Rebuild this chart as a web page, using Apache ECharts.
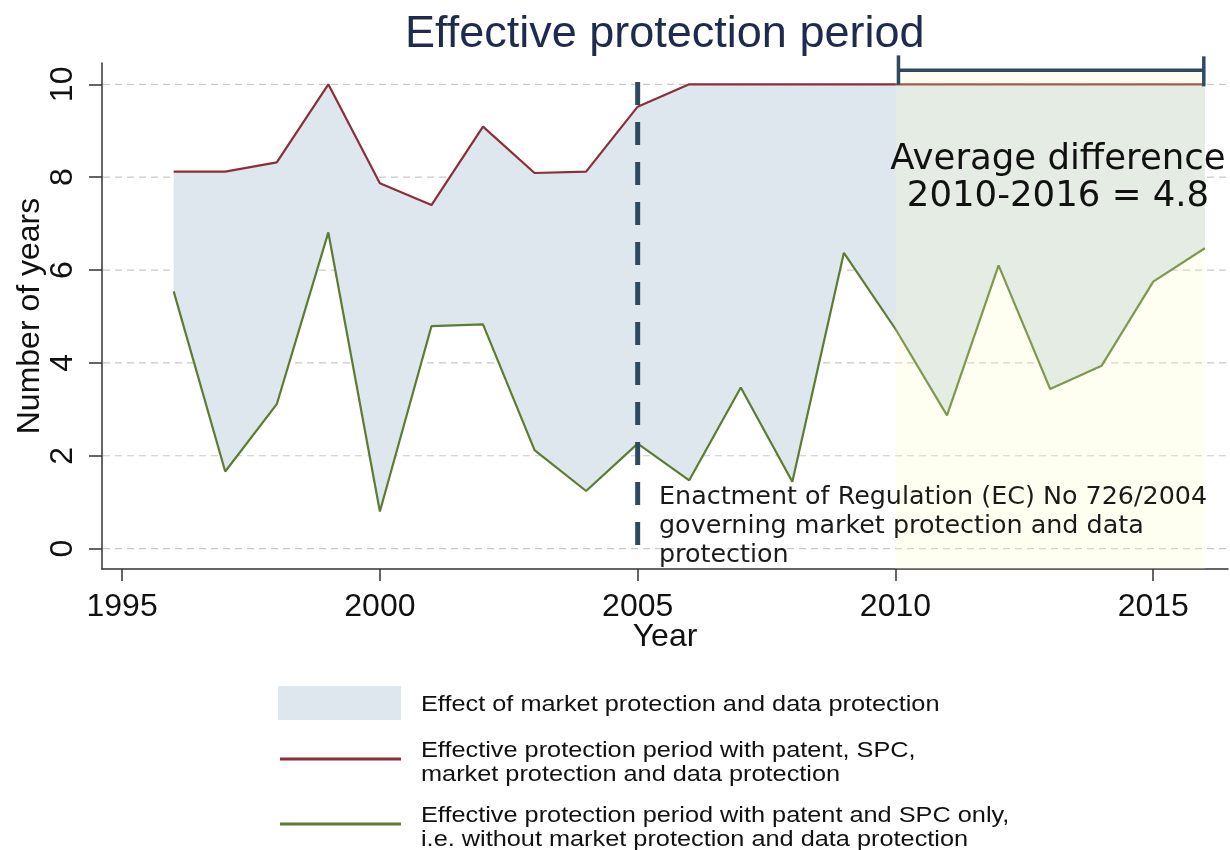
<!DOCTYPE html>
<html>
<head>
<meta charset="utf-8">
<title>Effective protection period</title>
<script src="https://cdn.jsdelivr.net/npm/echarts@6/dist/echarts.min.js"></script>
<style>
  html, body { margin: 0; padding: 0; background: #ffffff; }
  #chart { width: 1230px; height: 850px; }
</style>
</head>
<body>
<div id="chart"></div>
<script>
// Years covered by the series
const years = [1996, 1997, 1998, 1999, 2000, 2001, 2002, 2003, 2004, 2005, 2006,
               2007, 2008, 2009, 2010, 2011, 2012, 2013, 2014, 2015, 2016];

// Effective protection period with patent, SPC, market protection and data protection
const withMarketProtection = [8.12, 8.12, 8.32, 10.0, 7.87, 7.40, 9.09, 8.09, 8.12, 9.52, 10.0,
                              10.0, 10.0, 10.0, 10.0, 10.0, 10.0, 10.0, 10.0, 10.0, 10.0];

// Effective protection period with patent and SPC only
const patentSpcOnly = [5.54, 1.66, 3.11, 6.81, 0.80, 4.79, 4.83, 2.12, 1.24, 2.26, 1.47,
                       3.47, 1.44, 6.37, 4.73, 2.87, 6.10, 3.44, 3.94, 5.75, 6.47];

// Axis ticks
const xTicks = [1995, 2000, 2005, 2010, 2015];
const yTicks = [0, 2, 4, 6, 8, 10];

// Annotated events
const regulationYear = [2005];
const averageSpan = [2010, 2016];

const X_MIN = 1994.61, X_MAX = 2016.45;
const Y_MIN = -0.44, Y_MAX = 10.46;

const ARIAL = "'Liberation Sans', Arial, Helvetica, sans-serif";
const GOTHIC = "'DejaVu Sans', 'Noto Sans', sans-serif";
const RED = '#8c2e3a';
const GREEN = '#5b7c32';
const BAND = '#dee7ed';
const SLATE = '#2c4b60';
const AXIS = '#333333';

const chart = echarts.init(document.getElementById('chart'), null, { renderer: 'canvas' });

// legend text is set slightly wide
const KEY_SCALE = 1.15;

const option = {
  animation: false,
  backgroundColor: '#ffffff',
  title: {
    text: 'Effective protection period',
    left: 400,
    top: 7,
    textStyle: { fontFamily: ARIAL, fontSize: 45, fontWeight: 'normal', color: '#1f2b4e' }
  },
  grid: { left: 102, right: 2, top: 63, bottom: 281, containLabel: false, outerBoundsMode: 'none' },
  xAxis: {
    type: 'value',
    min: X_MIN,
    max: X_MAX,
    name: 'Year',
    nameLocation: 'middle',
    nameGap: 52,
    nameMoveOverlap: false,
    nameTextStyle: { fontFamily: ARIAL, fontSize: 32, color: '#111' },
    axisLine: { show: true, onZero: false, lineStyle: { color: AXIS, width: 1.5 } },
    axisTick: { show: true, customValues: xTicks, length: 12, lineStyle: { color: AXIS, width: 1.5 } },
    axisLabel: { customValues: xTicks, fontFamily: ARIAL, fontSize: 32, color: '#111', margin: 22,
                 formatter: v => String(v) },
    splitLine: { show: false }
  },
  yAxis: {
    type: 'value',
    min: Y_MIN,
    max: Y_MAX,
    name: 'Number of years',
    nameLocation: 'middle',
    nameGap: 56,
    nameMoveOverlap: false,
    nameTextStyle: { fontFamily: ARIAL, fontSize: 32, color: '#111' },
    axisLine: { show: true, onZero: false, lineStyle: { color: AXIS, width: 1.5 } },
    axisTick: { show: true, customValues: yTicks, length: 13, lineStyle: { color: AXIS, width: 1.5 } },
    axisLabel: { customValues: yTicks, rotate: 90, fontFamily: ARIAL, fontSize: 32, color: '#111', margin: 23,
                 formatter: v => String(v) },
    splitLine: { show: false }
  },
  series: [
    {
      // dashed horizontal gridlines at each y tick
      type: 'custom',
      name: 'grid',
      z: 1,
      silent: true,
      data: yTicks.map(v => [X_MIN, v]),
      renderItem: (params, api) => {
        const a = api.coord([X_MIN, api.value(1)]);
        const b = api.coord([X_MAX, api.value(1)]);
        return {
          type: 'line',
          shape: { x1: a[0] + 1, y1: a[1], x2: b[0], y2: b[1] },
          style: { stroke: '#c9c9c9', lineWidth: 1.2, lineDash: [7, 5] }
        };
      }
    },
    {
      // band between the two protection periods
      type: 'custom',
      name: 'Effect of market protection and data protection',
      z: 2,
      silent: true,
      data: years.map((y, i) => [y, withMarketProtection[i], patentSpcOnly[i]]),
      renderItem: (params, api) => {
        if (params.dataIndex !== 0) return null;
        const pts = [];
        years.forEach((y, i) => pts.push(api.coord([y, withMarketProtection[i]])));
        for (let i = years.length - 1; i >= 0; i--) pts.push(api.coord([years[i], patentSpcOnly[i]]));
        return { type: 'polygon', shape: { points: pts }, style: { fill: BAND } };
      }
    },
    {
      type: 'line',
      name: 'Effective protection period with patent, SPC, market protection and data protection',
      z: 3,
      symbol: 'none',
      data: years.map((y, i) => [y, withMarketProtection[i]]),
      lineStyle: { color: RED, width: 2.2 },
      itemStyle: { color: RED }
    },
    {
      type: 'line',
      name: 'Effective protection period with patent and SPC only',
      z: 3,
      symbol: 'none',
      data: years.map((y, i) => [y, patentSpcOnly[i]]),
      lineStyle: { color: GREEN, width: 2.2 },
      itemStyle: { color: GREEN }
    },
    {
      // translucent highlight of the averaging period
      type: 'custom',
      name: 'highlight',
      z: 4,
      silent: true,
      data: [averageSpan],
      renderItem: (params, api) => {
        const a = api.coord([api.value(0), 10.27]);
        const b = api.coord([api.value(1), Y_MIN]);
        return {
          type: 'rect',
          shape: { x: a[0], y: a[1], width: b[0] - a[0], height: b[1] - a[1] },
          style: { fill: 'rgba(255,255,193,0.22)' }
        };
      }
    },
    {
      // bracket above the averaging period
      type: 'custom',
      name: 'bracket',
      z: 5,
      silent: true,
      clip: false,
      data: [averageSpan],
      renderItem: (params, api) => {
        const a = api.coord([api.value(0), 10]);
        const b = api.coord([api.value(1), 10]);
        const style = { stroke: SLATE, lineWidth: 3.5 };
        const xl = a[0] + 3, xr = b[0] - 1, yBar = a[1] - 14;
        return {
          type: 'group',
          children: [
            { type: 'line', shape: { x1: xl, y1: yBar, x2: xr, y2: yBar }, style },
            { type: 'line', shape: { x1: xl, y1: a[1] - 29, x2: xl, y2: a[1] + 0.5 }, style },
            { type: 'line', shape: { x1: xr, y1: a[1] - 28, x2: xr, y2: a[1] + 2 }, style }
          ]
        };
      }
    },
    {
      // dashed marker for the regulation year
      type: 'custom',
      name: 'regulation',
      z: 5,
      silent: true,
      data: regulationYear.map(y => [y]),
      renderItem: (params, api) => {
        const top = api.coord([api.value(0), 10.05]);
        const bottom = api.coord([api.value(0), 0]);
        return {
          type: 'line',
          shape: { x1: top[0], y1: top[1], x2: bottom[0], y2: bottom[1] },
          style: { stroke: SLATE, lineWidth: 5, lineDash: [23, 17] }
        };
      }
    }
  ],
  graphic: [
    {
      type: 'text',
      z: 10,
      left: 659,
      top: 483,
      style: {
        text: 'Enactment of Regulation (EC) No 726/2004\ngoverning market protection and data\nprotection',
        font: '25.4px ' + GOTHIC,
        lineHeight: 29,
        fill: '#1a1a1a'
      }
    },
    {
      type: 'text',
      z: 10,
      x: 1058,
      y: 141,
      style: {
        text: 'Average difference\n2010-2016 = 4.8',
        font: '35.5px ' + GOTHIC,
        lineHeight: 37,
        align: 'center',
        verticalAlign: 'top',
        fill: '#111'
      }
    },
    // key
    { type: 'rect', z: 10, shape: { x: 278, y: 686, width: 123, height: 34 }, style: { fill: BAND } },
    { type: 'line', z: 10, shape: { x1: 280, y1: 759, x2: 401, y2: 759 }, style: { stroke: RED, lineWidth: 3 } },
    { type: 'line', z: 10, shape: { x1: 280, y1: 824, x2: 401, y2: 824 }, style: { stroke: GREEN, lineWidth: 3 } },
    {
      type: 'text', z: 10, x: 421, y: 705, scaleX: KEY_SCALE,
      style: { text: 'Effect of market protection and data protection', font: '22px ' + ARIAL,
               verticalAlign: 'middle', fill: '#111' }
    },
    {
      type: 'text', z: 10, x: 421, y: 763, scaleX: KEY_SCALE,
      style: { text: 'Effective protection period with patent, SPC,\nmarket protection and data protection',
               font: '22px ' + ARIAL, lineHeight: 23.5, verticalAlign: 'middle', fill: '#111' }
    },
    {
      type: 'text', z: 10, x: 421, y: 828, scaleX: KEY_SCALE,
      style: { text: 'Effective protection period with patent and SPC only,\ni.e. without market protection and data protection',
               font: '22px ' + ARIAL, lineHeight: 23.5, verticalAlign: 'middle', fill: '#111' }
    }
  ]
};

chart.setOption(option);
</script>
</body>
</html>
